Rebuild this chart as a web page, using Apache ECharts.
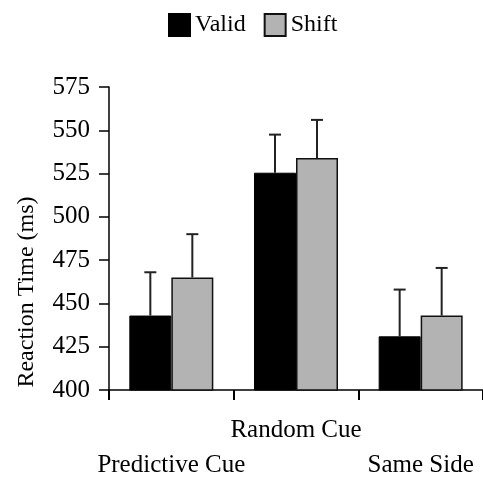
<!DOCTYPE html>
<html>
<head>
<meta charset="utf-8">
<script src="https://cdn.jsdelivr.net/npm/echarts@6/dist/echarts.min.js"></script>
<style>
  html, body { margin: 0; padding: 0; background: #fff; }
  #chart { width: 483px; height: 483px; }
</style>
</head>
<body>
<div id="chart"></div>
<script>
// data
const categories = ['Predictive Cue', 'Random Cue', 'Same Side']
const validMeans = [443, 525.5, 431]
const shiftMeans = [465, 534, 443]
const validErr = [25, 22, 27]
const shiftErr = [25, 22, 27.5]
const yTicks = [400, 425, 450, 475, 500, 525, 550, 575]
const yTitle = 'Reaction Time (ms)'

const FONT = "'Liberation Serif', 'Times New Roman', Times, serif"
const BAR_W = 42

var myChart = echarts.init(document.getElementById('chart'))

// error bar (upper half only), shifted onto its bar
function errorBar(means, errs, shift) {
  return function (params, api) {
    var i = api.value(0)
    var base = api.coord([i, means[i]])
    var top = api.coord([i, means[i] + errs[i]])
    var x = base[0] + shift
    var style = { stroke: '#222', lineWidth: 2 }
    return {
      type: 'group',
      children: [
        { type: 'line', shape: { x1: x, y1: base[1], x2: x, y2: top[1] }, style: style },
        { type: 'line', shape: { x1: x - 6, y1: top[1], x2: x + 6, y2: top[1] }, style: style }
      ]
    }
  }
}

var option = {
  animation: false,
  textStyle: { fontFamily: FONT, color: '#000' },
  legend: {
    top: 8,
    left: 163,
    itemWidth: 21,
    itemHeight: 22,
    itemGap: 18,
    icon: 'rect',
    textStyle: { fontFamily: FONT, fontSize: 24, color: '#000' },
    data: ['Valid', 'Shift']
  },
  // y title sits low in the original, so place it by hand
  graphic: [
    {
      type: 'text',
      x: 27,
      y: 292,
      rotation: Math.PI / 2,
      style: {
        text: yTitle,
        font: '24px ' + FONT,
        fill: '#000',
        align: 'center',
        verticalAlign: 'middle'
      }
    }
  ],
  grid: { left: 109, top: 87, width: 378, height: 307 },
  xAxis: {
    type: 'category',
    data: categories,
    axisLine: { lineStyle: { color: '#000', width: 1.5 } },
    axisTick: { show: true, length: 10, interval: 0, lineStyle: { color: '#000', width: 2 } },
    axisLabel: {
      interval: 0,
      margin: 23,
      fontFamily: FONT,
      fontSize: 25,
      color: '#000',
      lineHeight: 35,
      formatter: function (v, i) { return i === 1 ? v : '\n' + v }
    }
  },
  yAxis: {
    type: 'value',
    min: yTicks[0],
    max: yTicks[yTicks.length - 1],
    interval: 25,
    axisLine: { show: true, lineStyle: { color: '#000', width: 1.5 } },
    axisTick: { show: true, length: 10, lineStyle: { color: '#000', width: 1.5 } },
    axisLabel: { margin: 19, fontFamily: FONT, fontSize: 25, color: '#000' },
    splitLine: { show: false }
  },
  series: [
    {
      name: 'Valid',
      type: 'bar',
      barWidth: BAR_W,
      barGap: '0%',
      data: validMeans,
      itemStyle: { color: '#000', borderColor: '#000', borderWidth: 1 }
    },
    {
      name: 'Shift',
      type: 'bar',
      barWidth: BAR_W,
      barGap: '0%',
      data: shiftMeans,
      itemStyle: { color: '#b3b3b3', borderColor: '#111', borderWidth: 1.5 }
    },
    {
      type: 'custom',
      renderItem: errorBar(validMeans, validErr, -BAR_W / 2),
      data: [0, 1, 2],
      z: 3
    },
    {
      type: 'custom',
      renderItem: errorBar(shiftMeans, shiftErr, BAR_W / 2),
      data: [0, 1, 2],
      z: 3
    }
  ]
}
myChart.setOption(option)
</script>
</body>
</html>
